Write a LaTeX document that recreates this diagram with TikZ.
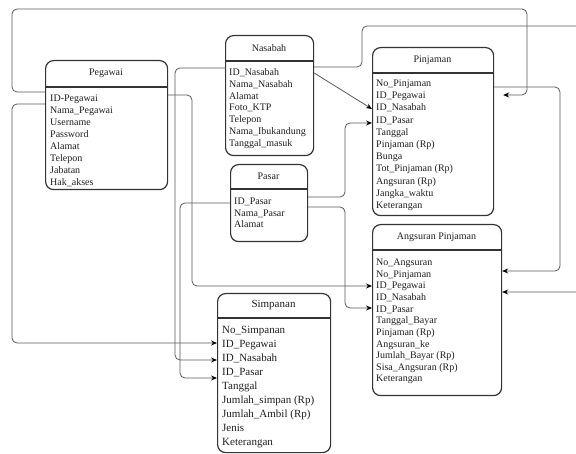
\documentclass[tikz,border=0pt]{standalone}
\usepackage{fontspec}
\setmainfont{Liberation Serif}
\usetikzlibrary{arrows.meta,calc}
\tikzset{
  ebox/.style={draw=black!80, line width=1.2pt, rounded corners=8pt, inner sep=0pt, fill=white, anchor=north west},
  etitle/.style={font=\fontsize{10}{12}\selectfont, text=black!88, inner sep=0pt},
  erow/.style={font=\fontsize{10}{12}\selectfont, text=black!88, inner sep=0pt, anchor=base west},
  erowbig/.style={erow, font=\fontsize{11}{13}\selectfont},
  ediv/.style={draw=black!80, line width=1.4pt},
  conn/.style={draw=black!65, line width=0.8pt, rounded corners=5pt},
  arr/.style={-{Stealth[length=6pt,width=5pt,black]}},
}
\begin{document}
\begin{tikzpicture}[x=1pt,y=-1pt]
\useasboundingbox[fill=white] (0,0) rectangle (576,454);

% ---------- Pegawai
\node[ebox, minimum width=122pt, minimum height=129pt] (peg) at (45,60) {};
\draw[ediv] (peg.west |- 0,87) -- (peg.east |- 0,87);
\node[etitle] (peg-t) at (106,73.5) {Pegawai};
\foreach \t [count=\i] in {ID-Pegawai,Nama\_Pegawai,Username,Password,Alamat,Telepon,Jabatan,Hak\_akses}
  \node[erow] (peg-\i) at (50,{101.5+(\i-1)*12}) {\t};

% ---------- Nasabah
\node[ebox, minimum width=88pt, minimum height=120pt] (nas) at (225,35) {};
\draw[ediv] (nas.west |- 0,61) -- (nas.east |- 0,61);
\node[etitle] (nas-t) at (269,48) {Nasabah};
\foreach \t [count=\i] in {ID\_Nasabah,Nama\_Nasabah,Alamat,Foto\_KTP,Telepon,Nama\_Ibukandung,Tanggal\_masuk}
  \node[erow] (nas-\i) at (229,{75.5+(\i-1)*11.8}) {\t};

% ---------- Pinjaman
\node[ebox, minimum width=121pt, minimum height=168pt] (pin) at (372,47) {};
\draw[ediv] (pin.west |- 0,73) -- (pin.east |- 0,73);
\node[etitle] (pin-t) at (432.5,60) {Pinjaman};
\foreach \t [count=\i] in {No\_Pinjaman,ID\_Pegawai,ID\_Nasabah,ID\_Pasar,Tanggal,Pinjaman (Rp),Bunga,Tot\_Pinjaman (Rp),Angsuran (Rp),Jangka\_waktu,Keterangan}
  \node[erow] (pin-\i) at (376,{86.5+(\i-1)*12.2}) {\t};

% ---------- Pasar
\node[ebox, minimum width=77pt, minimum height=77pt] (pas) at (230,164) {};
\draw[ediv] (pas.west |- 0,189) -- (pas.east |- 0,189);
\node[etitle] (pas-t) at (268.5,176.5) {Pasar};
\foreach \t [count=\i] in {ID\_Pasar,Nama\_Pasar,Alamat}
  \node[erow] (pas-\i) at (234,{204.5+(\i-1)*11.6}) {\t};

% ---------- Angsuran Pinjaman
\node[ebox, minimum width=129pt, minimum height=171pt] (ang) at (372,224) {};
\draw[ediv] (ang.west |- 0,250) -- (ang.east |- 0,250);
\node[etitle] (ang-t) at (436.5,237) {Angsuran Pinjaman};
\foreach \t [count=\i] in {No\_Angsuran,No\_Pinjaman,ID\_Pegawai,ID\_Nasabah,ID\_Pasar,Tanggal\_Bayar,Pinjaman (Rp),Angsuran\_ke,Jumlah\_Bayar (Rp),Sisa\_Angsuran (Rp),Keterangan}
  \node[erow] (ang-\i) at (376,{265.5+(\i-1)*11.65}) {\t};

% ---------- Simpanan
\node[ebox, minimum width=113pt, minimum height=159pt] (simp) at (217,293) {};
\draw[ediv] (simp.west |- 0,318) -- (simp.east |- 0,318);
\node[etitle, font=\fontsize{11}{13}\selectfont] (simp-t) at (273.5,305.5) {Simpanan};
\foreach \t [count=\i] in {No\_Simpanan,ID\_Pegawai,ID\_Nasabah,ID\_Pasar,Tanggal,Jumlah\_simpan (Rp),Jumlah\_Ambil (Rp),Jenis,Keterangan}
  \node[erowbig] (simp-\i) at (222,{333.8+(\i-1)*13.9}) {\t};

% ---------- connectors
\draw[conn,arr] (peg.west |- 0,92) -- (12,92) -- (12,9) -- (527,9) -- (527,95) -- ($(pin.east |- 0,95)+(9,0)$);
\draw[conn,arr] (peg.west |- 0,104) -- (12,104) -- (12,343) -- (simp.west |- 0,343);
\draw[conn,arr] (peg.east |- 0,95) -- (192,95) -- (192,286) -- (ang.west |- 0,286);
\draw[conn,arr] (nas.west |- 0,68) -- (175,68) -- (175,360) -- (simp.west |- 0,360);
\draw[conn,arr] (nas.east |- 0,67) -- (362,67) -- (362,26) -- (600,26) -- (600,292) -- (ang.east |- 0,292);
\draw[conn,arr] (nas.east |- 0,73) -- (pin.west |- 0,109);
\draw[conn,arr] (pas.west |- 0,203) -- (180,203) -- (180,378) -- (simp.west |- 0,378);
\draw[conn,arr] (pas.east |- 0,197) -- (345,197) -- (345,123) -- (pin.west |- 0,123);
\draw[conn,arr] (pas.east |- 0,207) -- (345,207) -- (345,308) -- (ang.west |- 0,308);
\draw[conn,arr] (pin.east |- 0,87) -- (560,87) -- (560,271) -- (ang.east |- 0,271);
\end{tikzpicture}
\end{document}
